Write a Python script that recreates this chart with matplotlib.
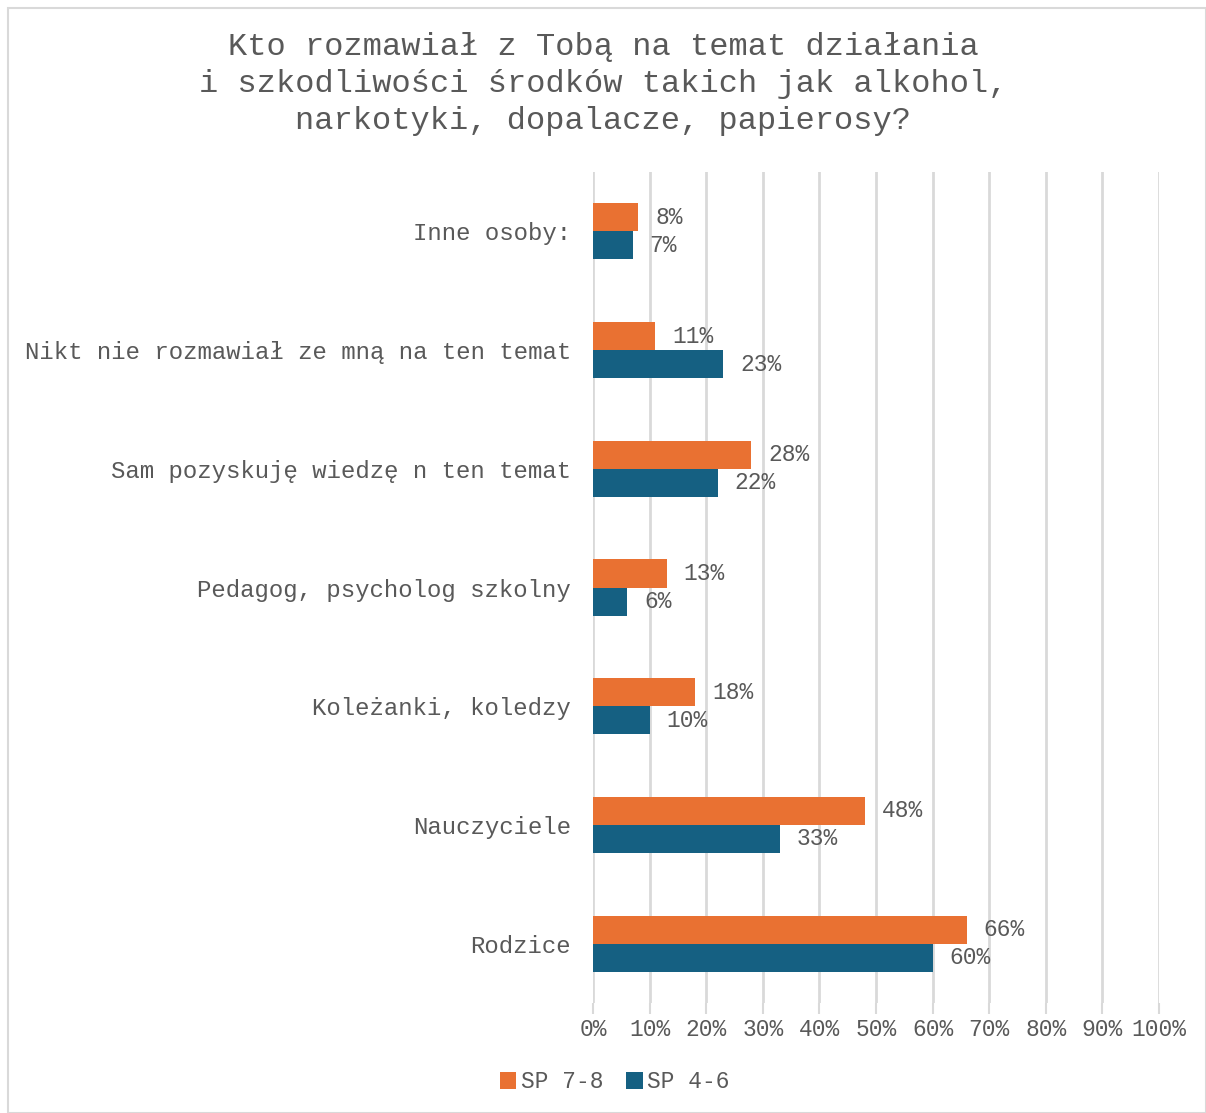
import numpy as np
import matplotlib
matplotlib.use('Agg')
import matplotlib.pyplot as plt
from matplotlib.patches import Rectangle

# data (bottom -> top)
categories = ['Rodzice', 'Nauczyciele', 'Koleżanki, koledzy', 'Pedagog, psycholog szkolny',
              'Sam pozyskuję wiedzę n ten temat', 'Nikt nie rozmawiał ze mną na ten temat',
              'Inne osoby:']
sp_78 = [66, 48, 18, 13, 28, 11, 8]
sp_46 = [60, 33, 10, 6, 22, 23, 7]
series_names = ['SP 7-8', 'SP 4-6']
xticks = np.arange(0, 101, 10)

orange = '#E97132'
blue = '#156082'
txt = '#595959'
grid = '#D9D9D9'
font = 'Liberation Mono'

plt.rcParams['font.family'] = [font, 'DejaVu Sans Mono']

fig = plt.figure(figsize=(12.06, 11.13), dpi=100)
ax = fig.add_axes([593/1206, 1 - 1003/1113, (1159-593)/1206, (1003-172)/1113])

y = np.arange(len(categories))
h = 0.236
b1 = ax.barh(y + h/2, sp_78, height=h, color=orange, label=series_names[0], zorder=3)
b2 = ax.barh(y - h/2, sp_46, height=h, color=blue, label=series_names[1], zorder=3)

for bars, vals in [(b1, sp_78), (b2, sp_46)]:
    for bar, v in zip(bars, vals):
        ax.annotate(f'{v}%', (bar.get_width(), bar.get_y() + bar.get_height()/2),
                    xytext=(17, 0), textcoords='offset pixels', va='center', ha='left',
                    fontsize=16.5, color=txt)

ax.set_xlim(0, 100)
ax.set_ylim(-0.5, len(categories) - 0.5)
ax.set_xticks(xticks)
ax.set_xticklabels([f'{t}%' for t in xticks], fontsize=16.5, color=txt)
ax.set_yticks(y)
ax.set_yticklabels(categories, fontsize=17.3, color=txt)
ax.tick_params(axis='y', length=0, pad=16)
ax.tick_params(axis='x', length=8, color=grid, width=1.5, pad=3)
ax.xaxis.grid(True, color=grid, linewidth=2, zorder=0)
for s in ax.spines.values():
    s.set_visible(False)

fig.text(0.5, 1 - 84/1113, 'Kto rozmawiał z Tobą na temat działania\n'
         'i szkodliwości środków takich jak alkohol,\nnarkotyki, dopalacze, papierosy?',
         ha='center', va='center', fontsize=23, color=txt, linespacing=1.3)

fig.legend(handles=[b1, b2], labels=series_names, loc='center', bbox_to_anchor=(615/1206, 1 - 1082/1113),
           ncol=2, frameon=False, fontsize=16.5, labelcolor=txt, handlelength=0.7, handleheight=0.7,
           handletextpad=0.2, columnspacing=1.0)

fig.patches.append(Rectangle((8/1206, 0), 1 - 8/1206, 1 - 8/1113, transform=fig.transFigure,
                             fill=False, edgecolor=grid, linewidth=1.5))

fig.savefig('out.png', dpi=100)
